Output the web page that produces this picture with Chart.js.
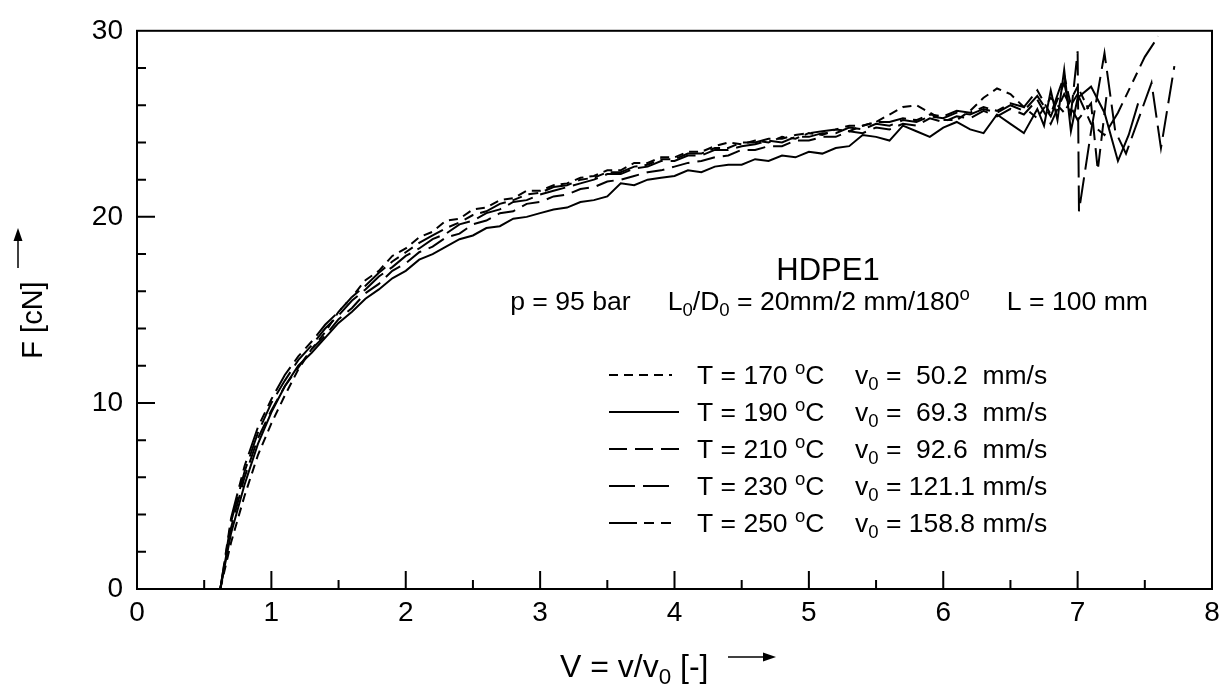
<!DOCTYPE html>
<html>
<head>
<meta charset="utf-8">
<script src="https://cdn.jsdelivr.net/npm/chart.js@4.4.1/dist/chart.umd.min.js"></script>
<style>
  html, body { margin: 0; padding: 0; background: #fff; }
  #wrap { width: 1229px; height: 695px; }
</style>
</head>
<body>
<div id="wrap"><canvas id="chart" width="1229" height="695"></canvas></div>
<script>
// x grid shared by the main part of every curve
const xMain = [0.62,0.7,0.8,0.9,1.0,1.1,1.2,1.3,1.4,1.5,1.6,1.7,1.8,1.9,2.0,2.1,2.2,2.3,2.4,2.5,
  2.6,2.7,2.8,2.9,3.0,3.1,3.2,3.3,3.4,3.5,3.6,3.7,3.8,3.9,4.0,4.1,4.2,4.3,4.4,4.5,
  4.6,4.7,4.8,4.9,5.0,5.1,5.2,5.3,5.4,5.5,5.6,5.7,5.8,5.9,6.0,6.1,6.2,6.3,6.4,6.5,6.6];

// F [cN]
const y170 = [0,2.5,5.0,7.2,8.9,10.4,11.8,12.9,13.8,14.9,15.7,16.6,17.1,17.9,18.3,18.9,19.2,19.8,19.9,20.4,
  20.5,20.9,21.0,21.4,21.4,21.7,21.8,22.1,22.2,22.5,22.5,22.9,22.9,23.2,23.2,23.5,23.5,23.8,24.0,23.9,
  24.1,24.0,24.3,24.2,24.5,24.4,24.7,24.6,24.9,25.1,25.5,25.9,26.0,25.6,25.2,25.2,25.7,26.4,26.9,26.6,25.9];
const y190 = [0,3.0,5.6,7.8,9.5,10.9,12.0,12.7,13.5,14.3,14.9,15.6,16.1,16.7,17.1,17.7,18.0,18.4,18.8,19.0,
  19.4,19.5,19.9,20.0,20.2,20.4,20.5,20.8,20.9,21.1,21.8,21.7,22.0,22.1,22.2,22.5,22.4,22.7,22.8,22.8,
  23.1,23.0,23.3,23.2,23.5,23.4,23.7,23.8,24.4,24.3,24.1,24.9,24.6,24.3,24.8,25.1,24.7,24.5,25.5,25.0,24.5];
const y210 = [0,3.3,6.0,8.1,9.6,10.9,11.9,12.9,13.6,14.5,15.1,15.9,16.4,17.1,17.5,18.1,18.4,18.9,19.1,19.6,
  19.8,20.2,20.3,20.7,20.8,21.1,21.2,21.5,21.6,21.9,22.0,22.2,22.4,22.5,22.7,22.9,23.0,23.2,23.3,23.6,
  23.6,23.8,23.8,24.1,24.1,24.3,24.3,24.6,24.5,24.8,24.7,25.0,24.9,25.3,25.1,25.4,25.3,25.7,25.4,25.8,25.5];
const y230 = [0,3.6,6.3,8.4,10.0,11.2,12.3,13.1,14.0,14.7,15.5,16.1,16.8,17.3,17.9,18.3,18.8,19.1,19.6,19.8,
  20.2,20.4,20.8,20.9,21.2,21.4,21.6,21.8,22.0,22.3,22.3,22.6,22.7,23.0,23.0,23.3,23.3,23.6,23.6,23.8,
  23.9,24.1,24.0,24.3,24.3,24.5,24.5,24.8,24.7,25.0,24.9,25.2,25.1,25.4,25.3,25.6,25.5,25.8,25.6,26.0,25.7];
const y250 = [0,3.8,6.6,8.7,10.2,11.5,12.5,13.3,14.2,14.9,15.7,16.3,17.0,17.6,18.1,18.6,19.0,19.4,19.7,20.1,
  20.3,20.7,20.9,21.2,21.3,21.6,21.7,22.0,22.1,22.4,22.4,22.7,22.8,23.1,23.1,23.4,23.4,23.7,23.7,24.0,
  24.0,24.2,24.2,24.4,24.5,24.6,24.7,24.9,24.9,25.1,25.1,25.3,25.2,25.5,25.4,25.7,25.6,25.9,25.7,26.1,25.9];

// noisy ends of the curves, past V = 6.6
const x170Tail = [6.7,6.8,6.9,7.0,7.08];
const y170Tail = [25.3,26.4,25.6,27.0,25.8];
const x190Tail = [6.7,6.75,6.8,6.85,6.9,6.95,7.0,7.1,7.2,7.3,7.38,7.45];
const y190Tail = [25.8,24.9,26.8,25.2,27.9,24.6,26.4,27.0,25.6,23.0,24.4,26.1];
const x210Tail = [6.7,6.8,6.9,7.0,7.1,7.15,7.22];
const y210Tail = [26.3,25.0,26.6,25.2,26.1,22.5,26.8];
const x230Tail = [6.7,6.8,6.9,6.95,7.0,7.01,7.1,7.2,7.28,7.36,7.45,7.55,7.62,7.72];
const y230Tail = [26.5,25.4,27.2,25.5,28.9,20.3,24.6,28.8,24.6,23.4,25.2,27.2,23.7,28.1];
const x250Tail = [6.7,6.8,6.9,6.95,7.0,7.1,7.2,7.3,7.4,7.5,7.6];
const y250Tail = [26.8,25.5,27.6,26.0,26.6,25.0,24.4,25.6,27.1,28.6,29.7];

const temps = ['170', '190', '210', '230', '250'];
const speeds = ['50.2', '69.3', '92.6', '121.1', '158.8'];
const dashes = [[9, 6], [], [18, 8], [26, 8], [28, 7, 10, 7, 10, 7]];
const sampleLen = [63, 70, 70, 60, 62];

const xTickMajor = [1, 2, 3, 4, 5, 6, 7];
const xTickMinor = [0.5, 1.5, 2.5, 3.5, 4.5, 5.5, 6.5, 7.5];
const yTickMajor = [10, 20];
const yTickMinor = [2, 4, 6, 8, 12, 14, 16, 18, 22, 24, 26, 28];

const FONT = '"Liberation Sans", Arial, Helvetica, sans-serif';

function toPoints(xs, ys, xt, yt) {
    let pts = [];
    let n = Math.min(xs.length, ys.length);
    for (let i = 0; i < n; i++) pts.push({x: xs[i], y: ys[i]});
    for (let i = 0; i < Math.min(xt.length, yt.length); i++) pts.push({x: xt[i], y: yt[i]});
    return pts;
}

const series = [
    toPoints(xMain, y170, x170Tail, y170Tail),
    toPoints(xMain, y190, x190Tail, y190Tail),
    toPoints(xMain, y210, x210Tail, y210Tail),
    toPoints(xMain, y230, x230Tail, y230Tail),
    toPoints(xMain, y250, x250Tail, y250Tail)
];

// draw text made of normal / sub / sup pieces
function richText(ctx, parts, x, y, size, align) {
    let w = 0;
    parts.forEach(p => {
        let s = p[1] ? size * 0.7 : size;
        ctx.font = s + 'px ' + FONT;
        w += ctx.measureText(p[0]).width;
    });
    if (align === 'center') x -= w / 2;
    if (align === 'right') x -= w;
    parts.forEach(p => {
        let s = p[1] ? size * 0.7 : size;
        ctx.font = s + 'px ' + FONT;
        let dy = 0;
        if (p[1] === 'sub') dy = size * 0.22;
        if (p[1] === 'sup') dy = -size * 0.38;
        ctx.fillText(p[0], x, y + dy);
        x += ctx.measureText(p[0]).width;
    });
    return w;
}

function arrow(ctx, x1, y1, x2, y2) {
    let a = Math.atan2(y2 - y1, x2 - x1);
    ctx.beginPath();
    ctx.moveTo(x1, y1);
    ctx.lineTo(x2 - 10 * Math.cos(a), y2 - 10 * Math.sin(a));
    ctx.stroke();
    ctx.beginPath();
    ctx.moveTo(x2, y2);
    ctx.lineTo(x2 - 13 * Math.cos(a) + 4.5 * Math.sin(a), y2 - 13 * Math.sin(a) - 4.5 * Math.cos(a));
    ctx.lineTo(x2 - 13 * Math.cos(a) - 4.5 * Math.sin(a), y2 - 13 * Math.sin(a) + 4.5 * Math.cos(a));
    ctx.closePath();
    ctx.fill();
}

const decor = {
    id: 'decor',
    afterDatasetsDraw(chart) {
        const ctx = chart.ctx;
        const a = chart.chartArea;
        const xs = chart.scales.x, ys = chart.scales.y;
        ctx.save();
        ctx.strokeStyle = '#000';
        ctx.fillStyle = '#000';
        ctx.lineWidth = 2;
        ctx.setLineDash([]);
        ctx.strokeRect(a.left, a.top, a.right - a.left, a.bottom - a.top);

        // inward ticks
        ctx.beginPath();
        xTickMajor.forEach(v => { let p = xs.getPixelForValue(v); ctx.moveTo(p, a.bottom); ctx.lineTo(p, a.bottom - 18); });
        xTickMinor.forEach(v => { let p = xs.getPixelForValue(v); ctx.moveTo(p, a.bottom); ctx.lineTo(p, a.bottom - 9); });
        yTickMajor.forEach(v => { let p = ys.getPixelForValue(v); ctx.moveTo(a.left, p); ctx.lineTo(a.left + 18, p); });
        yTickMinor.forEach(v => { let p = ys.getPixelForValue(v); ctx.moveTo(a.left, p); ctx.lineTo(a.left + 9, p); });
        ctx.stroke();

        // axis titles
        ctx.textBaseline = 'alphabetic';
        richText(ctx, [['V = v/v'], ['0', 'sub'], [' [-]']], 560, 677, 32, 'left');
        ctx.lineWidth = 1.5;
        arrow(ctx, 728, 657, 776, 657);

        ctx.save();
        ctx.translate(42, 320);
        ctx.rotate(-Math.PI / 2);
        richText(ctx, [['F [cN]']], 0, 0, 29, 'center');
        ctx.restore();
        arrow(ctx, 18, 268, 18, 228);

        // annotation
        richText(ctx, [['HDPE1']], 828, 280, 31, 'center');
        richText(ctx, [['p = 95 bar     L'], ['0', 'sub'], ['/D'], ['0', 'sub'], [' = 20mm/2 mm/180'], ['o', 'sup'],
            ['     L = 100 mm']], 1148, 310, 26.6, 'right');

        // legend
        for (let i = 0; i < temps.length; i++) {
            let ly = 375 + 37 * i;
            ctx.lineWidth = 2;
            ctx.setLineDash(dashes[i]);
            ctx.beginPath();
            ctx.moveTo(609, ly);
            ctx.lineTo(609 + sampleLen[i], ly);
            ctx.stroke();
            ctx.setLineDash([]);
            let by = ly + 9;
            let sp = speeds[i].length < 5 ? '  ' + speeds[i] + '  ' : ' ' + speeds[i] + ' ';
            richText(ctx, [['T = ' + temps[i] + ' '], ['o', 'sup'], ['C']], 697, by, 26.5, 'left');
            richText(ctx, [['v'], ['0', 'sub'], [' =' + sp + 'mm/s']], 855, by, 26.5, 'left');
        }
        ctx.restore();
    }
};

new Chart(document.getElementById('chart').getContext('2d'), {
    type: 'line',
    data: {
        datasets: series.map((pts, i) => ({
            label: 'T = ' + temps[i] + ' °C',
            data: pts,
            borderColor: '#000',
            borderWidth: 2,
            borderDash: dashes[i],
            pointRadius: 0,
            tension: 0,
            fill: false
        }))
    },
    options: {
        responsive: false,
        animation: false,
        layout: { padding: { left: 0, top: 25, right: 17, bottom: 0 } },
        plugins: { legend: { display: false }, tooltip: { enabled: false } },
        scales: {
            x: {
                type: 'linear',
                min: 0, max: 8,
                grid: { display: false, drawTicks: false },
                border: { display: false },
                ticks: { stepSize: 1, autoSkip: false, maxRotation: 0, padding: 7, color: '#000',
                    font: { family: FONT, size: 28 } },
                afterFit: s => { s.height = 106; }
            },
            y: {
                min: 0, max: 30,
                grid: { display: false, drawTicks: false },
                border: { display: false },
                ticks: { stepSize: 10, padding: 14, color: '#000',
                    font: { family: FONT, size: 28 } },
                afterFit: s => { s.width = 137; }
            }
        }
    },
    plugins: [decor]
});
</script>
</body>
</html>
